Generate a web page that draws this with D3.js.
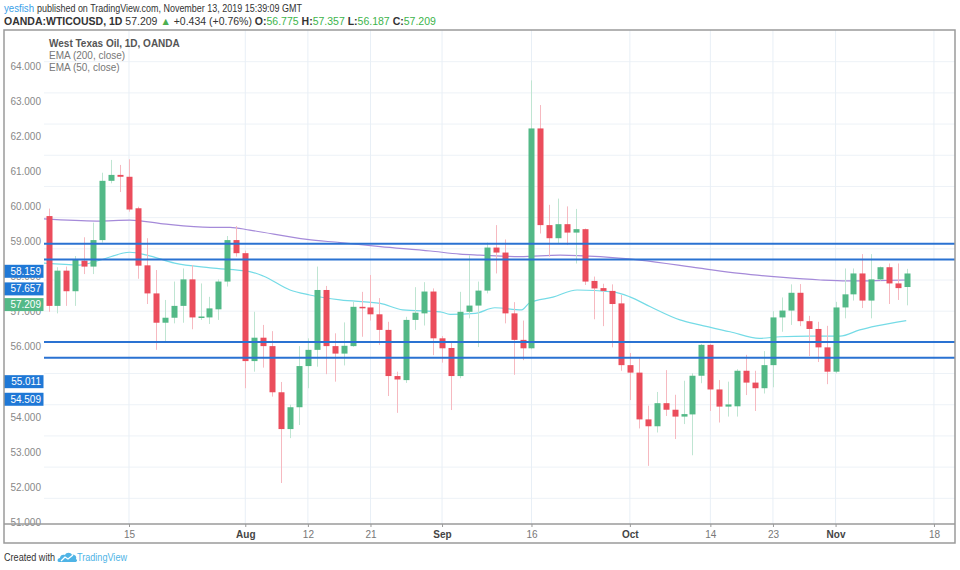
<!DOCTYPE html>
<html>
<head>
<meta charset="utf-8">
<script src="https://cdn.jsdelivr.net/npm/d3@7"></script>
<style>
  body { margin: 0; background: #fff; }
  svg { display: block; font-family: "Liberation Sans", Arial, sans-serif; }
</style>
</head>
<body>
<div id="wrapper"></div>
<script>
// trading days run from firstDay, weekdays only
const firstDay = "2019-07-02";
const lastAxisDay = "2019-11-18";

const opens = [59.05, 56.17, 57.30, 56.64, 57.62, 57.43, 58.28, 60.18, 60.37, 60.31,
  59.30, 57.47, 56.57, 55.63, 55.79, 56.17, 57.02, 55.80, 55.80, 56.06,
  56.95, 58.28, 57.86, 54.40, 55.15, 54.88, 53.40, 52.22, 52.92, 54.24,
  54.76, 56.68, 54.88, 54.64, 54.88, 56.14, 56.12, 55.90, 55.40, 53.92,
  53.79, 55.72, 55.93, 56.63, 55.13, 54.82, 53.92, 55.98, 56.18, 56.66,
  58.04, 57.88, 55.93, 55.08, 54.81, 61.86, 58.76, 58.34, 58.79, 58.52,
  58.63, 56.97, 56.74, 56.65, 56.25, 54.27, 54.03, 52.53, 52.31, 53.05,
  52.84, 52.62, 52.69, 53.93, 54.92, 53.49, 52.94, 52.95, 54.09, 53.71,
  53.53, 54.27, 55.80, 56.02, 56.59, 55.68, 55.43, 54.84, 54.06, 56.12,
  56.54, 57.21, 56.34, 57.02, 57.41, 56.89, 56.775];
const highs = [59.29, 57.41, 57.43, 57.77, 58.37, 58.84, 60.44, 60.85, 60.69, 60.87,
  59.35, 58.34, 57.32, 56.36, 56.95, 57.37, 57.48, 56.89, 56.46, 57.02,
  58.41, 58.73, 57.94, 55.98, 55.56, 55.36, 53.73, 53.00, 54.88, 55.13,
  57.43, 56.81, 55.29, 55.64, 56.30, 56.62, 57.16, 56.42, 55.66, 54.06,
  55.82, 56.77, 56.93, 56.73, 55.20, 55.02, 56.62, 57.80, 56.95, 58.20,
  58.76, 58.30, 56.29, 55.70, 63.40, 62.61, 59.41, 59.61, 59.36, 59.28,
  58.65, 57.11, 56.88, 56.86, 56.52, 54.66, 54.49, 52.97, 53.41, 54.11,
  53.32, 53.77, 54.01, 54.95, 54.95, 53.79, 53.74, 54.14, 54.60, 54.09,
  54.72, 56.00, 56.44, 56.86, 56.87, 55.85, 55.66, 55.53, 56.30, 57.37,
  57.37, 57.83, 57.83, 57.43, 57.53, 57.53, 57.357];
const lows = [55.98, 55.93, 56.17, 56.17, 57.19, 57.19, 58.20, 60.10, 59.82, 59.19,
  57.04, 56.23, 54.76, 55.04, 55.61, 55.63, 55.42, 55.72, 55.59, 55.72,
  56.79, 57.75, 53.53, 54.06, 54.19, 53.26, 50.49, 51.93, 52.35, 53.53,
  54.22, 53.98, 53.74, 54.26, 54.86, 55.18, 55.70, 54.92, 53.28, 52.74,
  53.70, 55.40, 55.54, 54.59, 54.35, 52.83, 53.85, 55.77, 54.85, 56.57,
  57.21, 55.61, 53.96, 54.43, 54.78, 58.49, 57.75, 58.18, 58.12, 57.53,
  56.84, 55.74, 55.52, 54.84, 54.09, 53.15, 52.24, 51.04, 52.11, 52.64,
  51.90, 52.38, 51.38, 53.69, 52.80, 52.43, 52.62, 52.62, 53.31, 52.80,
  53.36, 53.56, 55.34, 55.56, 55.52, 54.56, 54.37, 53.66, 54.01, 55.77,
  56.34, 56.10, 55.77, 56.98, 56.23, 56.36, 56.187];
const closes = [56.17, 57.30, 56.64, 57.66, 57.43, 58.28, 60.18, 60.37, 60.31, 59.26,
  57.46, 56.57, 55.63, 55.79, 56.17, 57.02, 55.80, 55.83, 56.09, 56.95,
  58.28, 57.86, 54.40, 55.15, 54.88, 53.40, 52.22, 52.92, 54.24, 54.76,
  56.68, 54.88, 54.64, 54.89, 56.14, 56.10, 55.90, 55.40, 53.92, 53.81,
  55.72, 55.95, 56.63, 55.13, 54.81, 53.92, 55.98, 56.18, 56.66, 58.04,
  57.88, 55.93, 55.08, 54.81, 61.86, 58.76, 58.34, 58.79, 58.52, 58.63,
  56.95, 56.73, 56.65, 56.23, 54.27, 54.03, 52.53, 52.31, 53.05, 52.84,
  52.62, 52.70, 53.93, 54.92, 53.49, 52.94, 53.01, 54.09, 53.71, 53.53,
  54.27, 55.80, 56.02, 56.59, 55.68, 55.43, 54.84, 54.06, 56.12, 56.54,
  57.21, 56.34, 57.02, 57.41, 56.89, 56.74, 57.209];

// [bar index, value]
const ema200Points = [[-0.6, 58.96], [5.4, 58.89], [9.1, 58.92], [12.8, 58.80], [18.1, 58.69],
  [20.3, 58.69], [22.5, 58.60], [28.9, 58.30], [32.6, 58.20], [37.1, 58.07], [42.7, 57.93],
  [46.0, 57.83], [48.2, 57.80], [52.7, 57.75], [57.2, 57.80], [61.7, 57.75], [66.1, 57.64],
  [72.8, 57.38], [77.3, 57.21], [81.8, 57.09], [86.3, 57.00], [89.3, 56.97], [92.6, 56.98],
  [95.9, 57.00]];
const ema50Points = [[-0.6, 57.54], [3.5, 57.48], [5.8, 57.64], [9.1, 57.89], [11.0, 57.80],
  [14.1, 57.54], [18.1, 57.39], [22.5, 57.27], [24.0, 57.13], [27.0, 56.68], [29.2, 56.52],
  [32.6, 56.36], [37.1, 56.25], [39.6, 56.04], [43.8, 55.98], [44.9, 55.90], [47.7, 55.93],
  [49.9, 56.11], [52.9, 56.04], [53.8, 56.27], [56.4, 56.45], [59.1, 56.68], [63.1, 56.62],
  [65.0, 56.46], [67.3, 56.14], [70.6, 55.72], [72.8, 55.56], [76.2, 55.34], [79.5, 55.13],
  [81.8, 55.18], [85.1, 55.20], [88.5, 55.20], [90.7, 55.40], [92.6, 55.53], [95.9, 55.70]];

const levelLines = [58.159, 57.657, 55.011, 54.509];
const lastPrice = 57.209;
const priceTicks = [64, 63, 62, 61, 60, 59, 58, 57, 56, 55, 54, 53, 52, 51];
const gridPrices = [64, 63, 62, 61, 60, 59, 58, 57, 56, 55, 54, 53, 52, 51, 50];
const xTickDates = ["2019-07-15", "2019-08-01", "2019-08-12", "2019-08-21", "2019-09-02",
  "2019-09-16", "2019-10-01", "2019-10-14", "2019-10-23", "2019-11-01", "2019-11-18"];
const xTickLabels = ["15", "Aug", "12", "21", "Sep", "16", "Oct", "14", "23", "Nov", "18"];

let dimensions = {
  width: 960,
  height: 570,
  frame: { left: 4, top: 30, right: 955, bottom: 543 },
  plotLeft: 44,
  axisY: 524
};

const parseDay = d3.timeParse("%Y-%m-%d");
let tradingDays = d3.timeDay
  .range(parseDay(firstDay), d3.timeDay.offset(parseDay(lastAxisDay), 1))
  .filter(d => d.getDay() !== 0 && d.getDay() !== 6);
let dayKey = d3.timeFormat("%Y-%m-%d");
let dayIndex = new Map(tradingDays.map((d, i) => [dayKey(d), i]));

let candles = opens.map((o, i) => ({
  date: tradingDays[i],
  i: i,
  open: o,
  high: highs[i],
  low: lows[i],
  close: closes[i]
}));

let xScale = d3.scaleLinear()
  .domain([0, tradingDays.length - 1])
  .range([48.5, 48.5 + 8.944 * (tradingDays.length - 1)]);

// price scale of the candles
let yScale = d3.scaleLinear().domain([57, 64]).range([280, 61.7]);
// the price axis text on the left sits on its own, wider spacing
let yLabelScale = d3.scaleLinear().domain([51, 64]).range([522.3, 66.5]);

const green = "#53b987";
const red = "#eb4d5c";

let svg = d3.select("#wrapper")
  .append("svg")
  .attr("width", dimensions.width)
  .attr("height", dimensions.height);

svg.append("rect")
  .attr("width", dimensions.width)
  .attr("height", dimensions.height)
  .attr("fill", "#fff");

// header
svg.append("text").attr("x", 4).attr("y", 11.5).attr("font-size", 10.5)
  .attr("fill", "#3aa0e8")
  .attr("textLength", 30).attr("lengthAdjust", "spacingAndGlyphs")
  .text("yesfish");
svg.append("text").attr("x", 37).attr("y", 11.5).attr("font-size", 10.5)
  .attr("fill", "#333")
  .attr("textLength", 265).attr("lengthAdjust", "spacingAndGlyphs")
  .text("published on TradingView.com, November 13, 2019 15:39:09 GMT");

let header2 = svg.append("text").attr("x", 4).attr("y", 25).attr("font-size", 10.5).attr("fill", "#333");
header2.append("tspan").attr("font-weight", "bold").text("OANDA:WTICOUSD, 1D");
header2.append("tspan").text(" 57.209 ");
header2.append("tspan").attr("fill", "#4caf50").text("▲");
header2.append("tspan").text(" +0.434 (+0.76%) ");
[["O:", "56.775"], [" H:", "57.357"], [" L:", "56.187"], [" C:", "57.209"]].forEach(([k, v]) => {
  header2.append("tspan").attr("font-weight", "bold").text(k);
  header2.append("tspan").attr("fill", "#3cb44b").text(v);
});

// clip for the plotting area
svg.append("clipPath").attr("id", "plot-clip")
  .append("rect")
  .attr("x", dimensions.plotLeft)
  .attr("y", dimensions.frame.top)
  .attr("width", dimensions.frame.right - dimensions.plotLeft)
  .attr("height", dimensions.axisY - dimensions.frame.top);

let grid = svg.append("g").attr("clip-path", "url(#plot-clip)");

grid.selectAll(".hgrid")
  .data(gridPrices)
  .join("line")
  .attr("x1", dimensions.frame.left)
  .attr("x2", dimensions.frame.right)
  .attr("y1", d => yScale(d))
  .attr("y2", d => yScale(d))
  .attr("stroke", "#edf2f7")
  .attr("stroke-width", 1);

grid.selectAll(".vgrid")
  .data(xTickDates)
  .join("line")
  .attr("x1", d => xScale(dayIndex.get(d)))
  .attr("x2", d => xScale(dayIndex.get(d)))
  .attr("y1", dimensions.frame.top)
  .attr("y2", dimensions.axisY)
  .attr("stroke", "#e8eff6")
  .attr("stroke-width", 1);

// legend
let legend = svg.append("g").attr("font-size", 10);
legend.append("text").attr("x", 49).attr("y", 46.5).attr("fill", "#555").attr("font-weight", "bold")
  .text("West Texas Oil, 1D, OANDA");
legend.append("text").attr("x", 49).attr("y", 58.5).attr("fill", "#777").text("EMA (200, close)");
legend.append("text").attr("x", 49).attr("y", 70.5).attr("fill", "#777").text("EMA (50, close)");

// price axis labels
let yAxisText = svg.append("g")
  .attr("font-size", 10)
  .attr("fill", "#888")
  .attr("text-anchor", "end");

yAxisText.selectAll("text")
  .data(priceTicks)
  .join("text")
  .attr("x", 41)
  .attr("y", d => yLabelScale(d))
  .attr("dy", "0.35em")
  .text(d => d3.format(".3f")(d));

let plot = svg.append("g").attr("clip-path", "url(#plot-clip)");

// moving averages
let lineGen = d3.line()
  .x(d => xScale(d[0]))
  .y(d => yScale(d[1]))
  .curve(d3.curveMonotoneX);

plot.append("path")
  .datum(ema200Points)
  .attr("d", lineGen)
  .attr("fill", "none")
  .attr("stroke", "#a58ad9")
  .attr("stroke-width", 1.2);

plot.append("path")
  .datum(ema50Points)
  .attr("d", lineGen)
  .attr("fill", "none")
  .attr("stroke", "#75dbe6")
  .attr("stroke-width", 1.2);

// candles
let candleGroups = plot.selectAll(".candle")
  .data(candles)
  .join("g")
  .attr("class", "candle");

candleGroups.append("line")
  .attr("x1", d => Math.round(xScale(d.i)) + 0.5)
  .attr("x2", d => Math.round(xScale(d.i)) + 0.5)
  .attr("y1", d => yScale(d.high))
  .attr("y2", d => yScale(d.low))
  .attr("stroke", d => d.close >= d.open ? "#bfe5d2" : "#f6b9c0")
  .attr("stroke-width", 1);

candleGroups.append("rect")
  .attr("x", d => Math.round(xScale(d.i)) - 2.5)
  .attr("width", 6)
  .attr("y", d => yScale(Math.max(d.open, d.close)))
  .attr("height", d => Math.max(1.5, Math.abs(yScale(d.open) - yScale(d.close))))
  .attr("fill", d => d.close >= d.open ? green : red);

// horizontal levels
plot.selectAll(".level")
  .data(levelLines)
  .join("line")
  .attr("x1", dimensions.plotLeft)
  .attr("x2", dimensions.frame.right)
  .attr("y1", d => yScale(d))
  .attr("y2", d => yScale(d))
  .attr("stroke", "#2a72d2")
  .attr("stroke-width", 2);

// tags on the price axis
let tags = svg.append("g").attr("font-size", 10);
let tagData = levelLines.map(v => ({ v: v, color: "#1f78d6" }))
  .concat([{ v: lastPrice, color: green }]);

tags.selectAll("rect")
  .data(tagData)
  .join("rect")
  .attr("x", dimensions.frame.left)
  .attr("y", d => yLabelScale(d.v) - 6.5)
  .attr("width", 39.5)
  .attr("height", 13)
  .attr("fill", d => d.color);

tags.selectAll("text")
  .data(tagData)
  .join("text")
  .attr("x", 41)
  .attr("y", d => yLabelScale(d.v))
  .attr("dy", "0.35em")
  .attr("text-anchor", "end")
  .attr("fill", "#fff")
  .text(d => d3.format(".3f")(d.v));

// frame and time axis
let frame = svg.append("g").attr("fill", "none").attr("stroke", "#9a9a9a");
frame.append("rect")
  .attr("x", dimensions.frame.left)
  .attr("y", dimensions.frame.top)
  .attr("width", dimensions.frame.right - dimensions.frame.left)
  .attr("height", dimensions.frame.bottom - dimensions.frame.top)
  .attr("stroke-width", 1.5);
frame.append("line")
  .attr("x1", dimensions.frame.left)
  .attr("x2", dimensions.frame.right)
  .attr("y1", dimensions.axisY)
  .attr("y2", dimensions.axisY)
  .attr("stroke-width", 1.5);

let xAxisGenerator = d3.axisBottom(xScale)
  .tickValues(xTickDates.map(d => dayIndex.get(d)))
  .tickFormat((d, i) => xTickLabels[i])
  .tickSize(3)
  .tickSizeOuter(0);

let xAxis = svg.append("g")
  .attr("transform", `translate(0, ${dimensions.axisY})`)
  .call(xAxisGenerator);

xAxis.select(".domain").remove();
xAxis.selectAll(".tick line").attr("stroke", "#9a9a9a");
xAxis.selectAll(".tick text")
  .attr("font-family", "Liberation Sans, Arial, sans-serif")
  .attr("font-size", 10)
  .attr("y", 7)
  .attr("fill", (d, i) => /[A-Za-z]/.test(xTickLabels[i]) ? "#444" : "#777")
  .attr("font-weight", (d, i) => /[A-Za-z]/.test(xTickLabels[i]) ? "bold" : "normal");

// footer
svg.append("text").attr("x", 4).attr("y", 561).attr("font-size", 10).attr("fill", "#333")
  .attr("textLength", 51).attr("lengthAdjust", "spacingAndGlyphs")
  .text("Created with");

let logo = svg.append("g").attr("transform", "translate(58, 550)");
logo.append("path")
  .attr("d", "M1,12 C-1,12 -1,8 2,8 C2,5 5,4 7,5 C8,2 13,2 14,5 C17,4 19,7 18,9 C20,10 19,12 17,12 Z")
  .attr("fill", "#4fb4e6");
logo.append("path")
  .attr("d", "M3,11 L7,7 L10,9 L15,5")
  .attr("fill", "none")
  .attr("stroke", "#fff")
  .attr("stroke-width", 1.3);
svg.append("text").attr("x", 77).attr("y", 561).attr("font-size", 10.5).attr("fill", "#4fb4e6")
  .attr("textLength", 50).attr("lengthAdjust", "spacingAndGlyphs")
  .text("TradingView");
</script>
</body>
</html>
